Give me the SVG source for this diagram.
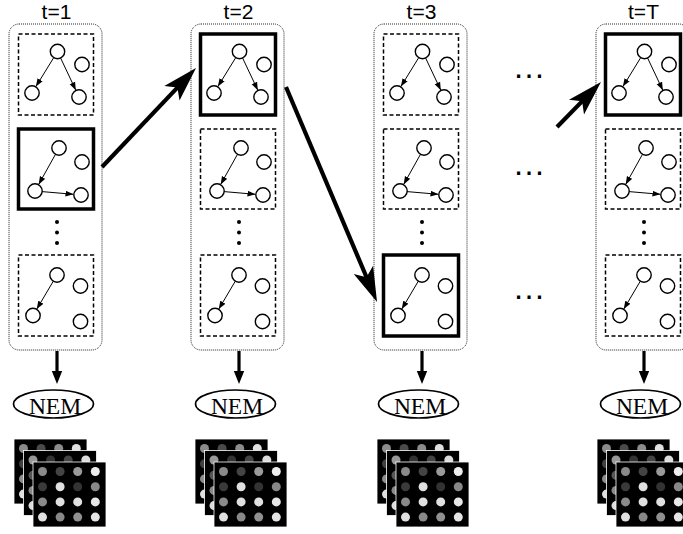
<svg xmlns="http://www.w3.org/2000/svg" xmlns:xlink="http://www.w3.org/1999/xlink" width="683" height="534" viewBox="0 0 683 534">
<style>
.lbl{font-family:"Liberation Sans",Arial,sans-serif;font-size:21px;fill:#000;text-anchor:middle}
.nem{font-family:"Liberation Serif","Times New Roman",serif;font-size:23.5px;fill:#000;text-anchor:middle}
.ell{font-family:"Liberation Sans",Arial,sans-serif;font-size:33px;fill:#000;text-anchor:middle}
.outer{fill:none;stroke:#222;stroke-width:1;stroke-dasharray:1 1}
.dash{fill:#fff;stroke:#000;stroke-width:1.5;stroke-dasharray:4 2.5}
.bold{fill:#fff;stroke:#000;stroke-width:3.5}
.nd{fill:#fff;stroke:#000;stroke-width:1.4}
.ed{stroke:#000;stroke-width:1;fill:none;marker-end:url(#sm)}
.big{stroke:#000;stroke-width:4.2;fill:none;marker-end:url(#bg)}
.down{stroke:#000;stroke-width:3.2;fill:none;marker-end:url(#dn)}
.vd{fill:#000}
.sq{fill:#000;stroke:#fff;stroke-width:0.8}
.oval{fill:#fff;stroke:#000;stroke-width:1.7}
</style>
<defs>
<marker id="bg" viewBox="0 -12 36 24" markerWidth="36" markerHeight="24" markerUnits="userSpaceOnUse" refX="10" refY="0" orient="auto"><path d="M0,-10.5 L35,0 L0,10.5 L8,0 Z" fill="#000"/></marker>
<marker id="dn" viewBox="0 -6 14 12" markerWidth="14" markerHeight="12" markerUnits="userSpaceOnUse" refX="1" refY="0" orient="auto"><path d="M0,-5.2 L13,0 L0,5.2 Z" fill="#000"/></marker>
<marker id="sm" viewBox="0 -3.5 8 7" markerWidth="8" markerHeight="7" markerUnits="userSpaceOnUse" refX="8" refY="0" orient="auto"><path d="M0,-3 L8,0 L0,3 Z" fill="#000"/></marker>
<g id="gA">
<line class="ed" x1="35.3" y1="23.5" x2="17.4" y2="52.6"/>
<line class="ed" x1="42" y1="23.8" x2="57.3" y2="56.2"/>
<circle class="nd" cx="39" cy="17.5" r="7.2"/>
<circle class="nd" cx="63.5" cy="30.5" r="7.2"/>
<circle class="nd" cx="13.5" cy="59" r="7.2"/>
<circle class="nd" cx="60.5" cy="63" r="7.2"/>
</g>
<g id="gB">
<line class="ed" x1="37.1" y1="25.1" x2="20.2" y2="55.4"/>
<line class="ed" x1="23.5" y1="62.6" x2="55" y2="65.3"/>
<circle class="nd" cx="40.5" cy="19" r="7.2"/>
<circle class="nd" cx="63.5" cy="33" r="7.2"/>
<circle class="nd" cx="16.5" cy="62" r="7.2"/>
<circle class="nd" cx="62.5" cy="66" r="7.2"/>
</g>
<g id="gC">
<line class="ed" x1="34.9" y1="26" x2="18.3" y2="54.1"/>
<circle class="nd" cx="38.5" cy="20" r="7.2"/>
<circle class="nd" cx="62" cy="31" r="7.2"/>
<circle class="nd" cx="14.5" cy="60.5" r="7.2"/>
<circle class="nd" cx="62" cy="66.5" r="7.2"/>
</g>
<g id="vdots">
<circle class="vd" cx="0" cy="0" r="2"/>
<circle class="vd" cx="0" cy="10.5" r="2"/>
<circle class="vd" cx="0" cy="21" r="2"/>
</g>
<g id="stack">
<g>
<rect class="sq" x="0" y="0" width="73" height="65"/>
<circle cx="9.5" cy="9.5" r="4.5" fill="#8c8c8c"/><circle cx="27.1" cy="9.5" r="4.5" fill="#4a4a4a"/><circle cx="44.7" cy="9.5" r="4.5" fill="#8c8c8c"/><circle cx="62.3" cy="9.5" r="4.5" fill="#e0e0e0"/>
<circle cx="9.5" cy="24.7" r="4.5" fill="#404040"/><circle cx="27.1" cy="24.7" r="4.5" fill="#8c8c8c"/><circle cx="44.7" cy="24.7" r="4.5" fill="#606060"/><circle cx="62.3" cy="24.7" r="4.5" fill="#d0d0d0"/>
<circle cx="9.5" cy="39.9" r="4.5" fill="#8c8c8c"/><circle cx="27.1" cy="39.9" r="4.5" fill="#d8d8d8"/><circle cx="44.7" cy="39.9" r="4.5" fill="#404040"/><circle cx="62.3" cy="39.9" r="4.5" fill="#8c8c8c"/>
<circle cx="9.5" cy="55.1" r="4.5" fill="#e0e0e0"/><circle cx="27.1" cy="55.1" r="4.5" fill="#8c8c8c"/><circle cx="44.7" cy="55.1" r="4.5" fill="#d0d0d0"/><circle cx="62.3" cy="55.1" r="4.5" fill="#e0e0e0"/>
</g>
<g transform="translate(9.5,11.5)">
<rect class="sq" x="0" y="0" width="73" height="65"/>
<circle cx="9.5" cy="9.5" r="4.5" fill="#999"/><circle cx="27.1" cy="9.5" r="4.5" fill="#333"/><circle cx="44.7" cy="9.5" r="4.5" fill="#444"/><circle cx="62.3" cy="9.5" r="4.5" fill="#ddd"/>
<circle cx="9.5" cy="24.7" r="4.5" fill="#555"/><circle cx="27.1" cy="24.7" r="4.5" fill="#ccc"/><circle cx="44.7" cy="24.7" r="4.5" fill="#444"/><circle cx="62.3" cy="24.7" r="4.5" fill="#999"/>
<circle cx="9.5" cy="39.9" r="4.5" fill="#888"/><circle cx="27.1" cy="39.9" r="4.5" fill="#ddd"/><circle cx="44.7" cy="39.9" r="4.5" fill="#ccc"/><circle cx="62.3" cy="39.9" r="4.5" fill="#ddd"/>
<circle cx="9.5" cy="55.1" r="4.5" fill="#ddd"/><circle cx="27.1" cy="55.1" r="4.5" fill="#999"/><circle cx="44.7" cy="55.1" r="4.5" fill="#888"/><circle cx="62.3" cy="55.1" r="4.5" fill="#ddd"/>
</g>
<g transform="translate(19,23)">
<rect class="sq" x="0" y="0" width="73" height="65"/>
<circle cx="9.5" cy="9.5" r="4.5" fill="#8a8a8a"/><circle cx="27.1" cy="9.5" r="4.5" fill="#444"/><circle cx="44.7" cy="9.5" r="4.5" fill="#9a9a9a"/><circle cx="62.3" cy="9.5" r="4.5" fill="#eee"/>
<circle cx="9.5" cy="24.7" r="4.5" fill="#3a3a3a"/><circle cx="27.1" cy="24.7" r="4.5" fill="#e0e0e0"/><circle cx="44.7" cy="24.7" r="4.5" fill="#333"/><circle cx="62.3" cy="24.7" r="4.5" fill="#888"/>
<circle cx="9.5" cy="39.9" r="4.5" fill="#8a8a8a"/><circle cx="27.1" cy="39.9" r="4.5" fill="#e0e0e0"/><circle cx="44.7" cy="39.9" r="4.5" fill="#e0e0e0"/><circle cx="62.3" cy="39.9" r="4.5" fill="#e8e8e8"/>
<circle cx="9.5" cy="55.1" r="4.5" fill="#e0e0e0"/><circle cx="27.1" cy="55.1" r="4.5" fill="#888"/><circle cx="44.7" cy="55.1" r="4.5" fill="#909090"/><circle cx="62.3" cy="55.1" r="4.5" fill="#e5e5e5"/>
</g>
</g>
</defs>
<rect x="0" y="0" width="683" height="534" fill="#fff"/>

<!-- column t=1 -->
<g id="col1">
<text class="lbl" x="56.5" y="19">t=1</text>
<rect class="outer" x="9" y="24" width="93" height="326" rx="10"/>
<g id="c1b1"><rect class="dash" x="18.5" y="34" width="75" height="81"/><use href="#gA" x="18.5" y="34"/></g>
<g id="c1b2"><rect class="bold" x="18.5" y="129" width="75" height="80"/><use href="#gB" x="18.5" y="129"/></g>
<use href="#vdots" x="57" y="222"/>
<g id="c1b3"><rect class="dash" x="18.5" y="255" width="75" height="81"/><use href="#gC" x="18.5" y="255"/></g>
</g>
<!-- column t=2 -->
<g id="col2">
<text class="lbl" x="238.5" y="19">t=2</text>
<rect class="outer" x="191" y="24" width="93" height="326" rx="10"/>
<g id="c2b1"><rect class="bold" x="200.5" y="34" width="75" height="81"/><use href="#gA" x="200.5" y="34"/></g>
<g id="c2b2"><rect class="dash" x="200.5" y="129" width="75" height="80"/><use href="#gB" x="200.5" y="129"/></g>
<use href="#vdots" x="239" y="222"/>
<g id="c2b3"><rect class="dash" x="200.5" y="255" width="75" height="81"/><use href="#gC" x="200.5" y="255"/></g>
</g>
<!-- column t=3 -->
<g id="col3">
<text class="lbl" x="421.5" y="19">t=3</text>
<rect class="outer" x="374" y="24" width="93" height="326" rx="10"/>
<g id="c3b1"><rect class="dash" x="383.5" y="34" width="75" height="81"/><use href="#gA" x="383.5" y="34"/></g>
<g id="c3b2"><rect class="dash" x="383.5" y="129" width="75" height="80"/><use href="#gB" x="383.5" y="129"/></g>
<use href="#vdots" x="422" y="222"/>
<g id="c3b3"><rect class="bold" x="383.5" y="255" width="75" height="81"/><use href="#gC" x="383.5" y="255"/></g>
</g>
<!-- column t=T -->
<g id="colT">
<text class="lbl" x="643.5" y="19">t=T</text>
<rect class="outer" x="596" y="24" width="93" height="326" rx="10"/>
<g id="cTb1"><rect class="bold" x="605.5" y="34" width="75" height="81"/><use href="#gA" x="605.5" y="34"/></g>
<g id="cTb2"><rect class="dash" x="605.5" y="129" width="75" height="80"/><use href="#gB" x="605.5" y="129"/></g>
<use href="#vdots" x="644" y="222"/>
<g id="cTb3"><rect class="dash" x="605.5" y="255" width="75" height="81"/><use href="#gC" x="605.5" y="255"/></g>
</g>

<!-- ellipsis dots between t=3 and t=T -->
<g id="gaps">
<text class="ell" x="529" y="78">…</text>
<text class="ell" x="529" y="175">…</text>
<text class="ell" x="529" y="299">…</text>
</g>

<!-- NEM nodes -->
<g id="nem1"><ellipse class="oval" cx="53.5" cy="404" rx="40" ry="14"/><text class="nem" x="55" y="413.5">NEM</text></g>
<g id="nem2"><ellipse class="oval" cx="235.5" cy="404" rx="40" ry="14"/><text class="nem" x="237" y="413.5">NEM</text></g>
<g id="nem3"><ellipse class="oval" cx="418.5" cy="404" rx="40" ry="14"/><text class="nem" x="420" y="413.5">NEM</text></g>
<g id="nemT"><ellipse class="oval" cx="640.5" cy="404" rx="40" ry="14"/><text class="nem" x="642" y="413.5">NEM</text></g>

<!-- image stacks -->
<g id="img1"><use href="#stack" x="14" y="439"/></g>
<g id="img2"><use href="#stack" x="195" y="439"/></g>
<g id="img3"><use href="#stack" x="377" y="439"/></g>
<g id="imgT"><use href="#stack" x="597" y="439"/></g>

<!-- connectors -->
<g id="connectors">
<line class="big" x1="102" y1="167" x2="178.8" y2="86.1"/>
<line class="big" x1="286" y1="87" x2="367.3" y2="279"/>
<line class="big" x1="557" y1="127" x2="583.5" y2="99.9"/>
<line class="down" x1="57" y1="351" x2="57" y2="372"/>
<line class="down" x1="239" y1="351" x2="239" y2="372"/>
<line class="down" x1="422" y1="351" x2="422" y2="372"/>
<line class="down" x1="644" y1="351" x2="644" y2="372"/>
</g>
</svg>
